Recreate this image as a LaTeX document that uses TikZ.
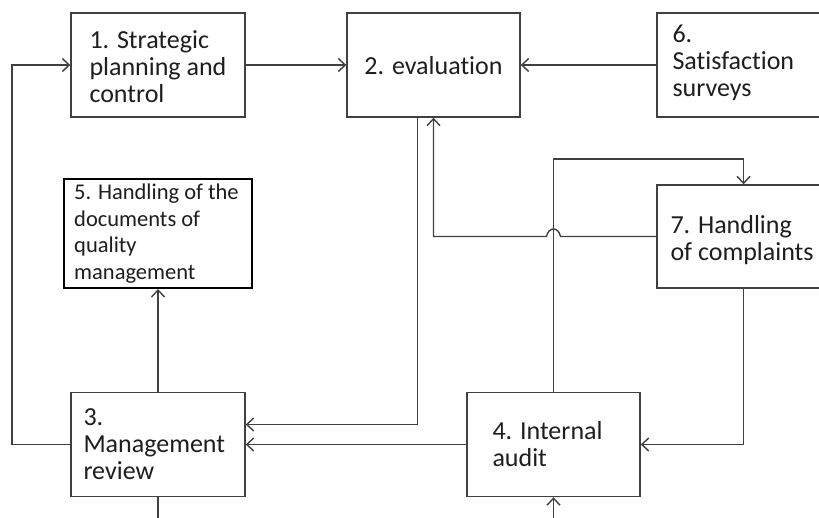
\documentclass[tikz,border=0pt]{standalone}
\usepackage{fontspec}
\setmainfont{Carlito}[Ligatures=NoCommon]
\usetikzlibrary{arrows.meta}
\definecolor{linegray}{HTML}{404040}
\definecolor{txtcol}{HTML}{1E1E1E}
\begin{document}
\begin{tikzpicture}[x=1pt,y=-1pt,
  box/.style={draw=linegray, line width=1.4pt, rectangle, inner sep=0pt,
              minimum width=174pt, minimum height=104pt},
  docbox/.style={draw=black, line width=2pt, rectangle, inner sep=0pt,
              minimum width=188pt, minimum height=109pt},
  txt/.style={inner sep=0pt, align=left, text=txtcol,
              font=\fontsize{26}{27}\selectfont},
  smalltxt/.style={inner sep=0pt, align=left, text=txtcol,
              font=\fontsize{22.5}{26.5}\selectfont},
  conn/.style={draw=linegray, line width=1.4pt},
  arr/.style={conn, -{Straight Barb[length=7pt,width=13pt]}}
]
\useasboundingbox (0,0) rectangle (819,518);
\clip (0,0) rectangle (819,518);
\fill[white] (0,0) rectangle (819,518);

% boxes
\node[box] (b1) at (158,65) {};
\node[box, minimum width=173pt] (b2) at (433.5,65) {};
\node[box, minimum width=173pt] (b6) at (743.5,65) {};
\node[docbox] (b5) at (158,233.5) {};
\node[box, minimum width=173pt, minimum height=103pt] (b7) at (743.5,236.5) {};
\node[box] (b3) at (158,444.5) {};
\node[box, minimum width=173pt] (b4) at (553.5,444.5) {};

% texts
\node[txt, anchor=west] (t1) at ([xshift=19pt,yshift=-2pt]b1.west) {1. Strategic\\planning and\\control};
\node[txt] (t2) at ([yshift=-1pt]b2.center) {2. evaluation};
\node[txt, anchor=west] (t6) at ([xshift=16pt,yshift=2pt]b6.west) {6.\\Satisfaction\\surveys};
\node[smalltxt, anchor=west] (t5) at ([xshift=11pt]b5.west) {5. Handling of the\\documents of\\quality\\management};
\node[txt, anchor=west] (t7) at ([xshift=14pt,yshift=-4pt]b7.west) {7. Handling\\of complaints};
\node[txt, anchor=west] (t3) at ([xshift=13pt]b3.west) {3.\\Management\\review};
\node[txt, anchor=west] (t4) at ([xshift=26pt]b4.west) {4. Internal\\audit};

% helper coordinates
\coordinate (lx) at (12,0);
\coordinate (ytop) at (0,159);
\coordinate (bot3) at (158,530);
\coordinate (bot4) at (553.5,530);
\coordinate (hop) at (b4.north |- b7.west);

% connectors
\draw[arr] (b3.west) -- (b3.west -| lx) |- (b1.west);
\draw[arr] (b1.east) -- (b2.west);
\draw[arr] (b6.west) -- (b2.east);
\draw[arr] ([xshift=-16pt]b2.south) |- ([yshift=20pt]b3.east);
\draw[arr] (b4.west) -- (b3.east);
\draw[arr] (b3.north) -- (b5.south);
\draw[conn] (b3.south) -- (bot3);
\draw[arr] (bot4) -- (b4.south);
\draw[arr] (b4.north) -- (b4.north |- ytop) -| (b7.north);
\draw[arr] (b7.south) |- (b4.east);
\draw[arr] (b7.west) -- ([xshift=7pt]hop)
   .. controls ([xshift=5pt,yshift=10pt]hop) and ([xshift=-5pt,yshift=10pt]hop) .. ([xshift=-7pt]hop)
   -- (hop -| b2.south) -- (b2.south);
\end{tikzpicture}
\end{document}
